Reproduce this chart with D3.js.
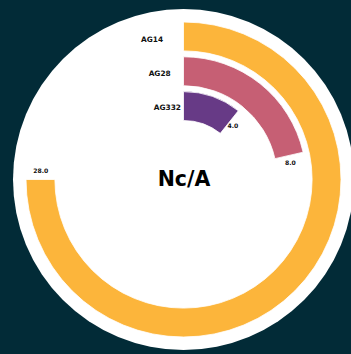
<!DOCTYPE html>
<html>
<head>
<meta charset="utf-8">
<script src="https://cdn.jsdelivr.net/npm/d3@7"></script>
<style>
  html, body { margin: 0; padding: 0; background: #022b37; overflow: hidden; }
  svg { display: block; }
</style>
</head>
<body>
<script>
// Radial bar chart: one ring per category, the arc length encodes the value.
const categories = ["AG14", "AG28", "AG332"];
const values = [28.0, 8.0, 4.0];
const colors = ["#fcb53b", "#c65f74", "#673a86"];
const centerTitle = "Nc/A";

const width = 351, height = 354;
const cx = 183.5, cy = 179.5;

const svg = d3.select("body").append("svg")
  .attr("width", width)
  .attr("height", height);

svg.append("rect").attr("width", width).attr("height", height).attr("fill", "#022b37");

// White disc behind the rings
svg.append("circle")
  .attr("cx", cx).attr("cy", cy).attr("r", 170.5)
  .attr("fill", "#ffffff");

const g = svg.append("g").attr("transform", `translate(${cx},${cy})`);

// Angular scale: the largest value sweeps three quarters of the circle
const angle = d3.scaleLinear()
  .domain([0, d3.max(values)])
  .range([0, 1.5 * Math.PI]);

// Radial band scale: first category is the outermost ring
const radius = d3.scaleBand()
  .domain(categories.slice().reverse())
  .range([59, 157.5])
  .paddingInner(0.17)
  .paddingOuter(0);

const arc = d3.arc()
  .innerRadius(d => radius(d.cat))
  .outerRadius(d => radius(d.cat) + radius.bandwidth())
  .startAngle(0)
  .endAngle(d => angle(d.value));

const data = categories.map((c, i) => ({ cat: c, value: values[i], color: colors[i] }));

g.selectAll("path.bar")
  .data(data)
  .join("path")
  .attr("class", "bar")
  .attr("d", arc)
  .attr("fill", d => d.color)
  .attr("stroke", "#ffffff")
  .attr("stroke-width", 0.8);

const mid = d => radius(d.cat) + radius.bandwidth() / 2;

// Category labels, just counter-clockwise of the ring starts
const labelAngle = -0.222;
g.selectAll("text.cat")
  .data(data)
  .join("text")
  .attr("class", "cat")
  .attr("x", d => mid(d) * Math.sin(labelAngle))
  .attr("y", d => -mid(d) * Math.cos(labelAngle))
  .attr("text-anchor", "middle")
  .attr("dominant-baseline", "central")
  .attr("font-family", "DejaVu Sans, sans-serif")
  .attr("font-weight", "bold")
  .attr("font-size", "7.4px")
  .attr("fill", "#111")
  .text(d => d.cat);

// Value labels past the end of each arc
const valueOffset = 0.064;
g.selectAll("text.val")
  .data(data)
  .join("text")
  .attr("class", "val")
  .attr("x", d => mid(d) * Math.sin(angle(d.value) + valueOffset))
  .attr("y", d => -mid(d) * Math.cos(angle(d.value) + valueOffset))
  .attr("text-anchor", "middle")
  .attr("dominant-baseline", "central")
  .attr("font-family", "DejaVu Sans, sans-serif")
  .attr("font-weight", "bold")
  .attr("font-size", "6.1px")
  .attr("fill", "#111")
  .text(d => d.value.toFixed(1));

// Center title
g.append("text")
  .attr("x", 0.5)
  .attr("y", 6.5)
  .attr("text-anchor", "middle")
  .attr("font-family", "DejaVu Sans, sans-serif")
  .attr("font-weight", "bold")
  .attr("font-size", "20.5px")
  .attr("fill", "#000")
  .text(centerTitle);
</script>
</body>
</html>
